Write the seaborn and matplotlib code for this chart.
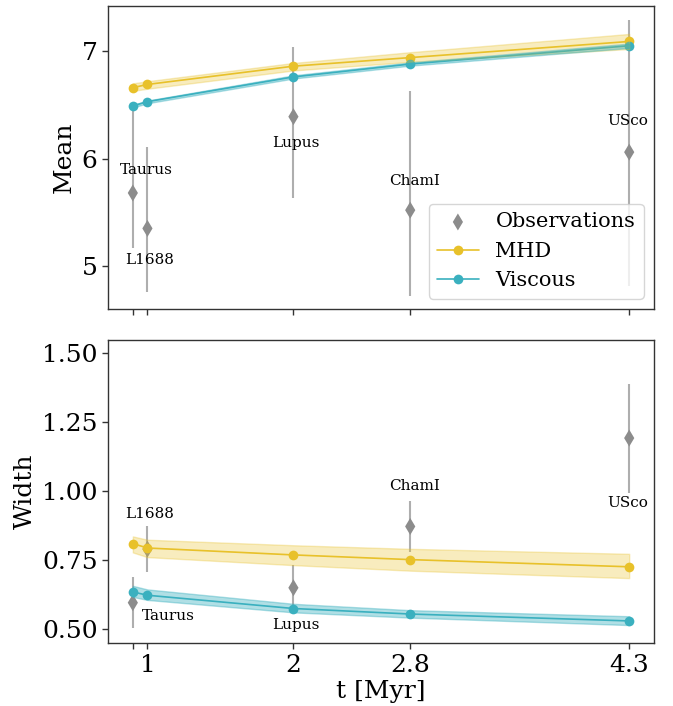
import numpy as np
import pandas as pd
import matplotlib
matplotlib.use("Agg")
import matplotlib.pyplot as plt
import seaborn as sns

# ---------------- data ----------------
regions = ["Taurus", "L1688", "Lupus", "ChamI", "USco"]
t_obs = [0.9, 1.0, 2.0, 2.8, 4.3]
mean_obs = [5.68, 5.35, 6.39, 5.52, 6.06]
mean_lo = [5.17, 4.76, 5.63, 4.72, 4.81]
mean_hi = [6.49, 6.11, 7.04, 6.63, 7.29]
width_obs = [0.597, 0.791, 0.651, 0.873, 1.193]
width_lo = [0.504, 0.708, 0.570, 0.779, 0.995]
width_hi = [0.691, 0.876, 0.733, 0.964, 1.389]

t_model = [0.9, 1.0, 2.0, 2.8, 4.3]
mhd_mean = [6.66, 6.69, 6.86, 6.94, 7.09]
mhd_mean_lo = [6.63, 6.65, 6.82, 6.90, 7.02]
mhd_mean_hi = [6.70, 6.72, 6.89, 6.99, 7.16]
visc_mean = [6.49, 6.53, 6.76, 6.88, 7.05]
visc_mean_lo = [6.475, 6.515, 6.745, 6.865, 7.03]
visc_mean_hi = [6.50, 6.54, 6.775, 6.895, 7.07]

mhd_width = [0.811, 0.795, 0.770, 0.753, 0.727]
mhd_width_lo = [0.779, 0.762, 0.733, 0.713, 0.686]
mhd_width_hi = [0.837, 0.825, 0.805, 0.792, 0.774]
visc_width = [0.636, 0.624, 0.576, 0.556, 0.531]
visc_width_lo = [0.618, 0.607, 0.562, 0.543, 0.516]
visc_width_hi = [0.658, 0.645, 0.593, 0.570, 0.548]

xticks = [0.9, 1.0, 2.0, 2.8, 4.3]
xticklabels = ["", "1", "2", "2.8", "4.3"]

# label offsets (points)
top_offsets = [(9.6, 16.6), (1.9, -23), (1.4, -18.7), (3.1, 21.1), (-1.4, 22.3)]
bot_offsets = [(25.2, -9.6), (1.9, 25.2), (1.4, -26.9), (3.1, 28.8), (-1.4, -46.8)]

# ---------------- style ----------------
sns.set_style("white")
plt.rcParams["font.family"] = ["DejaVu Serif"]
plt.rcParams["axes.edgecolor"] = "#333333"
plt.rcParams["xtick.color"] = "#333333"
plt.rcParams["ytick.color"] = "#333333"
plt.rcParams["text.color"] = "black"
plt.rcParams["axes.labelcolor"] = "black"
plt.rcParams["xtick.labelcolor"] = "black"
plt.rcParams["ytick.labelcolor"] = "black"

c_mhd = "#e8c12a"
c_visc = "#3ab0bf"
c_obs = "#8c8c8c"

fig = plt.figure(figsize=(6.73, 7.06), dpi=100)
ax1 = fig.add_axes([0.1605, 0.5623, 0.8113, 0.4292])
ax2 = fig.add_axes([0.1605, 0.0888, 0.8113, 0.4296], sharex=ax1)


def draw(ax, obs, lo, hi, mhd, mhd_lo, mhd_hi, visc, visc_lo, visc_hi, offsets, legend):
    obs = np.asarray(obs)
    yerr = [obs - np.asarray(lo), np.asarray(hi) - obs]
    ax.errorbar(t_obs, obs, yerr=yerr, fmt="none", ecolor=c_obs, elinewidth=1.5,
                alpha=0.7, zorder=1)
    sns.scatterplot(x=t_obs, y=obs, marker="d", s=75, color=c_obs, edgecolor="none",
                    ax=ax, zorder=2, label="Observations" if legend else None)
    sns.lineplot(x=t_model, y=mhd, color=c_mhd, marker="o", markersize=7,
                 markeredgecolor="none", linewidth=1.2, ax=ax, zorder=3,
                 label="MHD" if legend else None)
    sns.lineplot(x=t_model, y=visc, color=c_visc, marker="o", markersize=7,
                 markeredgecolor="none", linewidth=1.2, ax=ax, zorder=3,
                 label="Viscous" if legend else None)
    ax.fill_between(t_model, mhd_lo, mhd_hi, color=c_mhd, alpha=0.3, linewidth=1,
                    edgecolor=c_mhd, zorder=4)
    ax.fill_between(t_model, visc_lo, visc_hi, color=c_visc, alpha=0.4, linewidth=1,
                    edgecolor=c_visc, zorder=4)
    for name, x, y, off in zip(regions, t_obs, obs, offsets):
        ax.annotate(name, (x, y), xytext=off, textcoords="offset points",
                    ha="center", va="center", fontsize=11)


draw(ax1, mean_obs, mean_lo, mean_hi, mhd_mean, mhd_mean_lo, mhd_mean_hi,
     visc_mean, visc_mean_lo, visc_mean_hi, top_offsets, True)
draw(ax2, width_obs, width_lo, width_hi, mhd_width, mhd_width_lo, mhd_width_hi,
     visc_width, visc_width_lo, visc_width_hi, bot_offsets, False)

ax1.set_ylim(4.6, 7.42)
ax1.set_yticks([5, 6, 7])
ax2.set_ylim(0.45, 1.548)
ax2.set_yticks([0.5, 0.75, 1.0, 1.25, 1.5])
ax2.set_yticklabels(["0.50", "0.75", "1.00", "1.25", "1.50"])
ax1.set_xlim(0.73, 4.47)
ax2.set_xticks(xticks)
ax2.set_xticklabels(xticklabels)
plt.setp(ax1.get_xticklabels(), visible=False)

for ax in (ax1, ax2):
    ax.tick_params(axis="both", which="both", direction="out", length=4, width=1,
                   labelsize=18, bottom=True, left=True)
    for s in ax.spines.values():
        s.set_visible(True)
        s.set_linewidth(1.0)
    ax.set_xlabel("")

ax1.set_ylabel("Mean", fontsize=18)
ax2.set_ylabel("Width", fontsize=18)
ax2.set_xlabel("t [Myr]", fontsize=18, labelpad=2)

leg = ax1.legend(loc="lower right", fontsize=15, frameon=True, handlelength=2.0)

fig.savefig("out.png", dpi=100)
